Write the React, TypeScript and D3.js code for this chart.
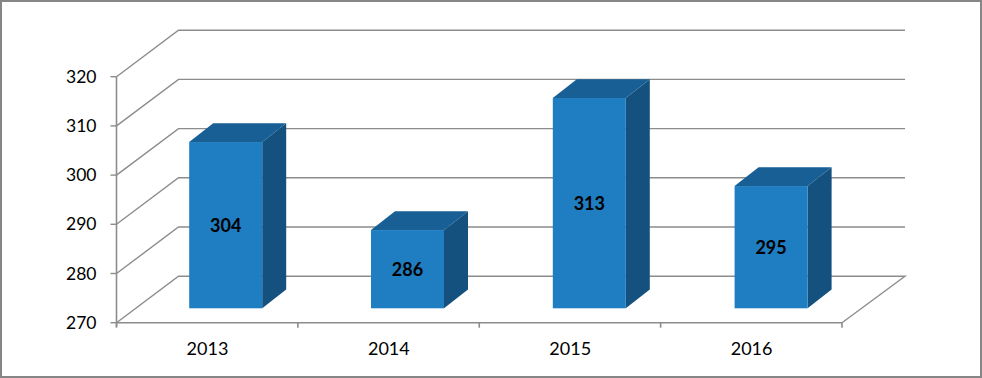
import React from "react";
import * as d3 from "d3";

const categories = ["2013", "2014", "2015", "2016"];
const values = [304, 286, 313, 295];
const yTicks = [270, 280, 290, 300, 310, 320];

const W = 982, H = 378;
const FONT = "Lato, 'Open Sans', sans-serif";
const GRID = "#8c8c8c";
const DX = 62, DY = 46.5;
const BAR_DX = 24, BAR_DY = 18.7;

const y = d3.scaleLinear().domain([270, 320]).range([322.7, 76.7]);
const barY = d3.scaleLinear().domain([270, 320]).range([308.3, 63.8]);
const x = d3.scaleBand<string>().domain(categories).range([116.5, 842]);
const barX = d3.scalePoint<string>().domain(categories).range([189.2, 734.6]);

const poly = (pts: [number, number][]) => d3.line()(pts) + "Z";

export default function App() {
  const x0 = 116.5, x1 = 842;
  const bw = x.bandwidth();
  const barW = 73;
  return (
    <svg width={W} height={H} style={{ position: "absolute", left: 0, top: 0, background: "#fff" }}>
      <rect x={1} y={1} width={W - 2} height={H - 2} fill="#fff" stroke="#868686" strokeWidth={2} />
      {yTicks.map((t) => {
        const v = y(t);
        const path = t === 270
          ? d3.line()([[x0, v], [x0 + DX, v - DY], [x1 + DX + 1, v - DY], [x1, v]])
          : d3.line()([[x0, v], [x0 + DX, v - DY], [x1 + DX + 1, v - DY]]);
        return <path key={t} d={path!} fill="none" stroke={GRID} strokeWidth={1.4} />;
      })}
      <line x1={x0} x2={x0} y1={y(320)} y2={y(270) + 4} stroke={GRID} strokeWidth={1.6} />
      <line x1={x0} x2={x1} y1={y(270)} y2={y(270)} stroke={GRID} strokeWidth={1.6} />
      {yTicks.map((t) => (
        <g key={t}>
          <line x1={x0 - 6} x2={x0} y1={y(t)} y2={y(t)} stroke={GRID} strokeWidth={1.4} />
          <text x={96.5} y={y(t) + 6} textAnchor="end" fontFamily={FONT} fontSize={17.5} fill="#000">{t}</text>
        </g>
      ))}
      {[...categories.map((c) => x(c)!), x1].map((px) => (
        <line key={px} x1={px} x2={px} y1={y(270)} y2={y(270) + 5} stroke={GRID} strokeWidth={1.6} />
      ))}
      {categories.map((c, i) => {
        const left = barX(c)!;
        const right = left + barW;
        const top = barY(values[i]);
        const bottom = barY(270);
        return (
          <g key={c}>
            <path d={poly([[right, top], [right + BAR_DX, top - BAR_DY], [right + BAR_DX, bottom - BAR_DY], [right, bottom]])} fill="#14517f" />
            <path d={poly([[left, top], [left + BAR_DX, top - BAR_DY], [right + BAR_DX, top - BAR_DY], [right, top]])} fill="#175f94" />
            <rect x={left} y={top} width={barW} height={bottom - top} fill="#1f7dc1" />
            <text x={left + barW / 2} y={(top + bottom) / 2 + 7} textAnchor="middle" fontFamily={FONT} fontWeight={700} fontSize={18} fill="#000">{values[i]}</text>
            <text x={x(c)! + bw / 2 + 0.3} y={355} textAnchor="middle" fontFamily={FONT} fontSize={18} fill="#000">{c}</text>
          </g>
        );
      })}
    </svg>
  );
}
